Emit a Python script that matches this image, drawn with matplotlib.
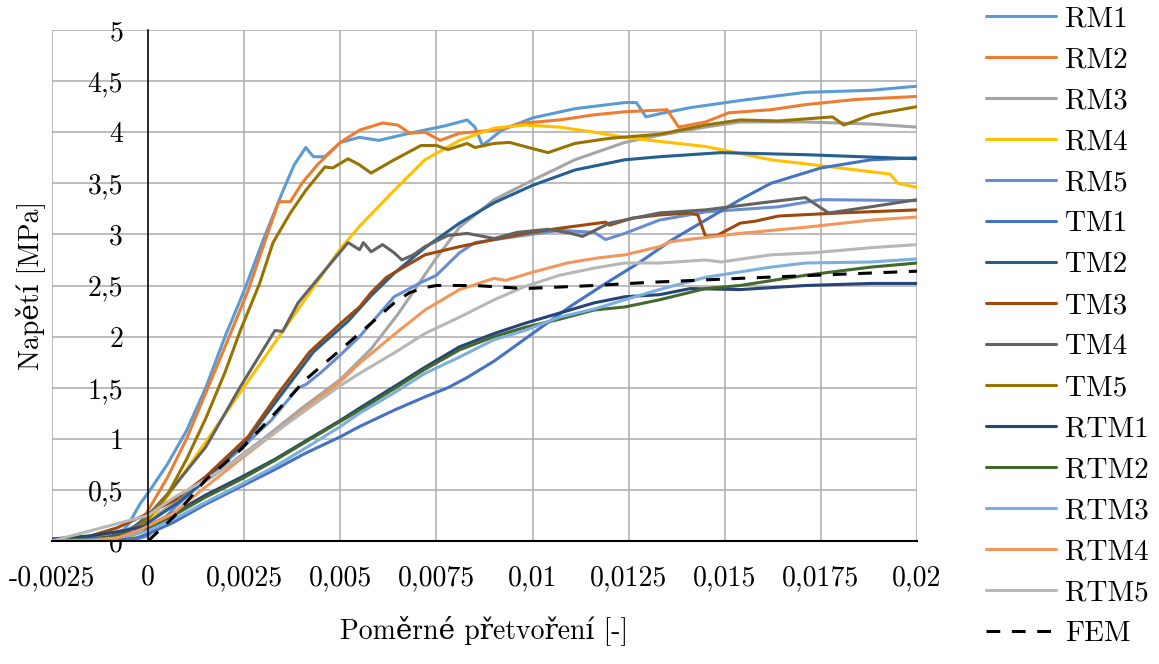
import matplotlib
matplotlib.use("Agg")
import matplotlib.pyplot as plt
from matplotlib.ticker import FixedLocator, FixedFormatter

plt.rcParams['font.family'] = ['cmr10', 'DejaVu Serif']
plt.rcParams['axes.unicode_minus'] = False

# ---- measured stress-strain curves: strain [-], stress [MPa] ----
rm1_x = [-0.0025, -0.0012, -0.0008, -0.0005, -0.0002, 0, 0.0005, 0.001, 0.0015, 0.002, 0.0025, 0.003, 0.0035, 0.0038, 0.0041, 0.0043, 0.0046, 0.005, 0.0055, 0.006, 0.0068, 0.0077, 0.0083, 0.0085, 0.0087, 0.0092, 0.01, 0.0111, 0.0124, 0.0127, 0.01295, 0.0133, 0.0141, 0.0154, 0.0171, 0.0188, 0.02]
rm1_y = [0, 0, 0.04, 0.17, 0.37, 0.47, 0.75, 1.08, 1.5, 2.0, 2.45, 2.95, 3.42, 3.68, 3.85, 3.76, 3.76, 3.9, 3.95, 3.92, 3.99, 4.06, 4.12, 4.05, 3.87, 4.02, 4.14, 4.23, 4.29, 4.29, 4.15, 4.18, 4.24, 4.31, 4.39, 4.41, 4.45]

rm2_x = [-0.0025, -0.001, -0.0004, 0, 0.0005, 0.001, 0.0015, 0.002, 0.0026, 0.0031, 0.0034, 0.0037, 0.004, 0.0044, 0.005, 0.0055, 0.0061, 0.0065, 0.0068, 0.0072, 0.0076, 0.0081, 0.009, 0.0098, 0.0107, 0.0116, 0.0124, 0.0135, 0.0138, 0.0145, 0.0151, 0.0162, 0.0171, 0.0184, 0.02]
rm2_y = [0, 0, 0.06, 0.3, 0.62, 1.0, 1.45, 1.9, 2.45, 3.0, 3.32, 3.32, 3.5, 3.68, 3.9, 4.02, 4.09, 4.07, 3.99, 4.0, 3.92, 3.99, 4.02, 4.09, 4.12, 4.17, 4.2, 4.22, 4.05, 4.1, 4.19, 4.22, 4.27, 4.32, 4.35]

rm3_x = [-0.0025, -0.0015, -0.0005, 0, 0.001, 0.002, 0.003, 0.004, 0.005, 0.0058, 0.0065, 0.0071, 0.0075, 0.0081, 0.009, 0.01, 0.0111, 0.0124, 0.0133, 0.0145, 0.0154, 0.0171, 0.0188, 0.02]
rm3_y = [0, 0.03, 0.12, 0.2, 0.45, 0.72, 1.0, 1.3, 1.58, 1.88, 2.22, 2.55, 2.77, 3.07, 3.34, 3.53, 3.73, 3.9, 3.97, 4.05, 4.1, 4.1, 4.08, 4.05]

rm4_x = [-0.0025, -0.0008, -0.0002, 0, 0.001, 0.002, 0.003, 0.004, 0.005, 0.0055, 0.0064, 0.0072, 0.0081, 0.009, 0.0098, 0.0107, 0.0116, 0.0124, 0.0133, 0.0145, 0.0162, 0.018, 0.0193, 0.0195, 0.02]
rm4_y = [0, 0, 0.08, 0.17, 0.7, 1.24, 1.78, 2.32, 2.86, 3.08, 3.43, 3.73, 3.92, 4.04, 4.07, 4.05, 4.0, 3.95, 3.91, 3.86, 3.73, 3.65, 3.59, 3.5, 3.46]

rm5_x = [-0.0025, -0.0005, 0, 0.0007, 0.0015, 0.0024, 0.0032, 0.0039, 0.0041, 0.0045, 0.005, 0.0055, 0.0064, 0.0071, 0.0075, 0.0081, 0.0085, 0.0094, 0.0107, 0.0116, 0.0119, 0.0124, 0.0133, 0.0145, 0.0164, 0.0175, 0.02]
rm5_y = [0, 0, 0.05, 0.33, 0.6, 0.9, 1.18, 1.5, 1.53, 1.65, 1.82, 2.0, 2.39, 2.53, 2.6, 2.82, 2.92, 2.97, 3.04, 3.02, 2.95, 3.01, 3.14, 3.22, 3.27, 3.34, 3.33]

tm1_x = [-0.0025, -0.001, -0.0003, 0, 0.00065, 0.0015, 0.0024, 0.0033, 0.0041, 0.005, 0.0055, 0.0064, 0.0072, 0.0078, 0.0083, 0.009, 0.01, 0.011, 0.0119, 0.0128, 0.0136, 0.0145, 0.0154, 0.0162, 0.0175, 0.0188, 0.02]
tm1_y = [0, 0, 0.03, 0.07, 0.18, 0.36, 0.53, 0.7, 0.86, 1.02, 1.12, 1.28, 1.41, 1.5, 1.6, 1.76, 2.03, 2.3, 2.52, 2.73, 2.94, 3.14, 3.34, 3.5, 3.65, 3.73, 3.75]

tm2_x = [-0.0025, -0.001, -0.0003, 0, 0.0008, 0.0015, 0.0026, 0.0035, 0.0043, 0.0052, 0.0058, 0.0064, 0.0072, 0.0081, 0.009, 0.01, 0.0111, 0.0124, 0.0133, 0.0149, 0.0171, 0.02]
tm2_y = [0, 0, 0.08, 0.18, 0.38, 0.6, 1.0, 1.45, 1.85, 2.15, 2.4, 2.62, 2.87, 3.11, 3.31, 3.48, 3.63, 3.73, 3.76, 3.8, 3.78, 3.74]

tm3_x = [-0.0025, -0.0015, -0.0008, 0, 0.0007, 0.0015, 0.0026, 0.0034, 0.0042, 0.0051, 0.0055, 0.0058, 0.0062, 0.0072, 0.0081, 0.009, 0.0098, 0.0107, 0.0119, 0.012, 0.0126, 0.0133, 0.0141, 0.0143, 0.0145, 0.0148, 0.0154, 0.0158, 0.0164, 0.018, 0.02]
tm3_y = [0, 0.05, 0.13, 0.27, 0.4, 0.63, 1.02, 1.45, 1.85, 2.16, 2.29, 2.43, 2.58, 2.8, 2.88, 2.95, 3.01, 3.06, 3.12, 3.09, 3.16, 3.19, 3.21, 3.19, 2.98, 2.99, 3.11, 3.13, 3.18, 3.21, 3.24]

tm4_x = [-0.0025, -0.0012, -0.0005, 0, 0.0006, 0.0015, 0.0024, 0.0033, 0.0035, 0.0039, 0.0046, 0.0052, 0.0055, 0.0056, 0.0058, 0.0061, 0.0064, 0.0066, 0.0069, 0.0072, 0.0078, 0.0083, 0.009, 0.0096, 0.0104, 0.011, 0.0113, 0.012, 0.0133, 0.0145, 0.0162, 0.0171, 0.0177, 0.0188, 0.02]
tm4_y = [0, 0.02, 0.1, 0.25, 0.5, 0.92, 1.51, 2.06, 2.05, 2.33, 2.65, 2.92, 2.85, 2.92, 2.83, 2.9, 2.82, 2.75, 2.8, 2.88, 2.99, 3.01, 2.96, 3.02, 3.05, 3.01, 2.98, 3.11, 3.21, 3.24, 3.32, 3.36, 3.21, 3.27, 3.34]

tm5_x = [-0.0025, -0.001, -0.0004, 0, 0.0005, 0.001, 0.0015, 0.002, 0.0024, 0.0029, 0.00325, 0.0037, 0.0041, 0.0046, 0.0048, 0.0052, 0.0055, 0.0058, 0.0064, 0.0071, 0.0075, 0.0078, 0.0083, 0.0085, 0.009, 0.0094, 0.0098, 0.0104, 0.0111, 0.012, 0.0133, 0.0145, 0.0154, 0.0164, 0.0171, 0.0178, 0.0181, 0.0188, 0.02]
tm5_y = [0, 0, 0.08, 0.22, 0.45, 0.8, 1.2, 1.65, 2.06, 2.52, 2.92, 3.21, 3.43, 3.66, 3.65, 3.74, 3.68, 3.6, 3.73, 3.87, 3.87, 3.83, 3.89, 3.85, 3.89, 3.9, 3.86, 3.8, 3.89, 3.94, 3.98, 4.07, 4.12, 4.11, 4.13, 4.15, 4.07, 4.17, 4.25]

rtm1_x = [-0.0025, -0.0015, -0.0008, 0, 0.0008, 0.0015, 0.0024, 0.0033, 0.0041, 0.005, 0.0055, 0.0064, 0.0072, 0.0081, 0.009, 0.0098, 0.0107, 0.0116, 0.0124, 0.0133, 0.0141, 0.0154, 0.0171, 0.0188, 0.02]
rtm1_y = [0.02, 0.05, 0.09, 0.15, 0.3, 0.45, 0.62, 0.8, 0.98, 1.18, 1.3, 1.51, 1.7, 1.9, 2.03, 2.13, 2.23, 2.33, 2.39, 2.41, 2.47, 2.46, 2.5, 2.52, 2.52]

rtm2_x = [-0.0025, -0.0015, -0.0008, 0, 0.0008, 0.0015, 0.0024, 0.0033, 0.0041, 0.005, 0.0055, 0.0064, 0.0072, 0.0081, 0.009, 0.0098, 0.0107, 0.0116, 0.0124, 0.0133, 0.0145, 0.0154, 0.0171, 0.0188, 0.02]
rtm2_y = [0, 0.02, 0.05, 0.12, 0.28, 0.43, 0.6, 0.79, 0.97, 1.17, 1.28, 1.49, 1.68, 1.87, 2.0, 2.09, 2.17, 2.26, 2.29, 2.36, 2.47, 2.5, 2.6, 2.68, 2.72]

rtm3_x = [-0.0025, -0.0015, -0.0008, 0, 0.0008, 0.0015, 0.0024, 0.0033, 0.0041, 0.005, 0.0055, 0.0064, 0.0072, 0.0081, 0.009, 0.0098, 0.0107, 0.0116, 0.0124, 0.0133, 0.0145, 0.0162, 0.0171, 0.0188, 0.02]
rtm3_y = [0, 0.01, 0.03, 0.1, 0.24, 0.38, 0.55, 0.73, 0.91, 1.12, 1.25, 1.45, 1.64, 1.8, 1.97, 2.06, 2.19, 2.27, 2.36, 2.46, 2.58, 2.68, 2.72, 2.73, 2.76]

rtm4_x = [-0.0025, -0.0015, -0.0008, -0.0002, 0.00065, 0.0015, 0.0024, 0.0033, 0.0041, 0.005, 0.0055, 0.0064, 0.0072, 0.0081, 0.009, 0.0093, 0.01, 0.0109, 0.0117, 0.0124, 0.0133, 0.0136, 0.0154, 0.0171, 0.0188, 0.02]
rtm4_y = [0, 0, 0.03, 0.11, 0.27, 0.53, 0.8, 1.06, 1.3, 1.56, 1.74, 2.02, 2.26, 2.46, 2.57, 2.55, 2.63, 2.72, 2.77, 2.8, 2.88, 2.93, 3.01, 3.07, 3.14, 3.17]

rtm5_x = [-0.0025, -0.0015, -0.0008, 0, 0.00065, 0.0015, 0.0024, 0.0033, 0.0041, 0.005, 0.0055, 0.0064, 0.0072, 0.0081, 0.009, 0.0098, 0.0107, 0.0116, 0.0124, 0.0133, 0.0145, 0.0149, 0.0162, 0.0173, 0.0188, 0.02]
rtm5_y = [0, 0.1, 0.17, 0.25, 0.42, 0.6, 0.82, 1.06, 1.28, 1.52, 1.64, 1.84, 2.03, 2.19, 2.36, 2.49, 2.6, 2.67, 2.72, 2.72, 2.75, 2.73, 2.8, 2.82, 2.87, 2.9]

# numerical model
fem_x = [0, 0.00065, 0.0015, 0.0024, 0.0033, 0.0041, 0.005, 0.0058, 0.0064, 0.0068, 0.0072, 0.0075, 0.0085, 0.0098, 0.0116, 0.013, 0.0154, 0.018, 0.02]
fem_y = [0, 0.23, 0.6, 0.89, 1.25, 1.58, 1.87, 2.13, 2.33, 2.43, 2.48, 2.5, 2.5, 2.47, 2.5, 2.53, 2.57, 2.61, 2.64]

series_names = ["RM1", "RM2", "RM3", "RM4", "RM5", "TM1", "TM2", "TM3", "TM4", "TM5",
                "RTM1", "RTM2", "RTM3", "RTM4", "RTM5"]
series_colors = ["#5B9BD5", "#ED7D31", "#A5A5A5", "#FFC000", "#698ED0", "#4472C4", "#255E91",
                 "#9E480E", "#636363", "#997300", "#264478", "#43682B", "#7CAFDD", "#F1975A", "#B7B7B7"]
series_data = [(rm1_x, rm1_y), (rm2_x, rm2_y), (rm3_x, rm3_y), (rm4_x, rm4_y), (rm5_x, rm5_y),
               (tm1_x, tm1_y), (tm2_x, tm2_y), (tm3_x, tm3_y), (tm4_x, tm4_y), (tm5_x, tm5_y),
               (rtm1_x, rtm1_y), (rtm2_x, rtm2_y), (rtm3_x, rtm3_y), (rtm4_x, rtm4_y), (rtm5_x, rtm5_y)]

x_ticks = [-0.0025, 0, 0.0025, 0.005, 0.0075, 0.01, 0.0125, 0.015, 0.0175, 0.02]
x_tick_labels = ["-0,0025", "0", "0,0025", "0,005", "0,0075", "0,01", "0,0125", "0,015", "0,0175", "0,02"]
y_ticks = [0, 0.5, 1, 1.5, 2, 2.5, 3, 3.5, 4, 4.5, 5]
y_tick_labels = ["0", "0,5", "1", "1,5", "2", "2,5", "3", "3,5", "4", "4,5", "5"]

W, H = 1159, 664
fig = plt.figure(figsize=(W / 100, H / 100), dpi=100)
ax = fig.add_axes([52 / W, 1 - 541 / H, (917 - 52) / W, (541 - 30) / H])

lw = 2.2
for (xs, ys), name, col in zip(series_data, series_names, series_colors):
    ax.plot(xs, ys, color=col, lw=lw, label=name, solid_capstyle='round', solid_joinstyle='round')
ax.plot(fem_x, fem_y, color="black", lw=lw, ls=(0, (4.5, 3.8)), label="FEM")

ax.set_xlim(-0.0025, 0.02)
ax.set_ylim(0, 5)
ax.xaxis.set_major_locator(FixedLocator(x_ticks))
ax.xaxis.set_major_formatter(FixedFormatter(x_tick_labels))
ax.yaxis.set_major_locator(FixedLocator(y_ticks))
ax.yaxis.set_major_formatter(FixedFormatter(y_tick_labels))

ax.grid(True, color="#ABABAB", lw=1.1)
ax.set_axisbelow(True)
for s in ("top", "right"):
    ax.spines[s].set_visible(False)
ax.spines["left"].set_position(("data", 0))
ax.spines["left"].set_color("black")
ax.spines["left"].set_linewidth(1.1)
ax.spines["bottom"].set_color("black")
ax.spines["bottom"].set_linewidth(1.5)
ax.tick_params(axis="both", length=0, labelsize=20)
ax.tick_params(axis="x", pad=17)
ax.tick_params(axis="y", pad=18)

ax.set_xlabel("Poměrné přetvoření [-]", fontsize=20)
ax.set_ylabel("Napětí [MPa]", fontsize=20)
ax.xaxis.label.set_va("center")
ax.yaxis.label.set_va("center")
ax.xaxis.set_label_coords(0.5, (541 - 630) / (541 - 30))
ax.yaxis.set_label_coords((30 - 52) / (917 - 52), 0.5)

ax.legend(loc="upper left", bbox_to_anchor=(986 / W, 1 - 6 / H), bbox_transform=fig.transFigure,
          frameon=False, fontsize=21, handlelength=2.4, handletextpad=0.3,
          labelspacing=0.5, borderaxespad=0, borderpad=0)

fig.savefig("out.png", dpi=100)
